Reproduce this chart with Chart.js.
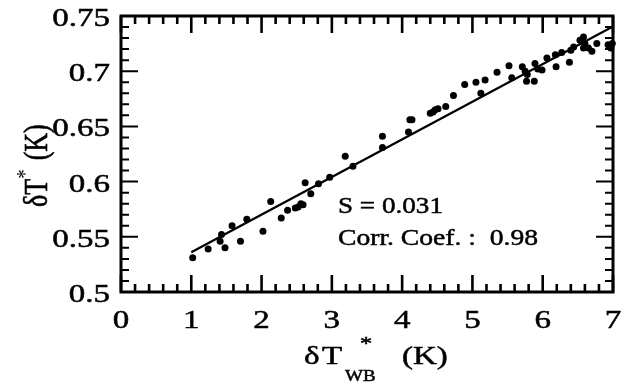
<!DOCTYPE html>
<html>
<head>
<meta charset="utf-8">
<script src="https://cdn.jsdelivr.net/npm/chart.js@4"></script>
<style>
  html, body { margin: 0; padding: 0; background: #fff; }
  .wrap { position: relative; width: 626px; height: 385px; }
</style>
</head>
<body>
<div class="wrap"><canvas id="chart"></canvas></div>
<script>
// dT_wb* (K) against dT* (K)
const xValues = [1.02, 1.24, 1.41, 1.43, 1.48, 1.58, 1.70, 1.79, 2.02, 2.13, 2.28, 2.37, 2.48, 2.52, 2.56, 2.59,
  2.62, 2.70, 2.81, 2.97, 3.19, 3.30, 3.72, 3.72, 4.09, 4.11, 4.14, 4.40, 4.44, 4.47, 4.51, 4.62,
  4.73, 4.89, 5.05, 5.12, 5.18, 5.35, 5.52, 5.56, 5.71, 5.75, 5.78, 5.77, 5.88, 5.89, 5.93, 5.99,
  6.06, 6.19, 6.18, 6.27, 6.38, 6.40, 6.44, 6.53, 6.58, 6.60, 6.58, 6.65, 6.70, 6.77, 6.93, 6.97, 6.99];
const yValues = [0.531, 0.539, 0.546, 0.552, 0.540, 0.560, 0.546, 0.566, 0.555, 0.582, 0.567, 0.574, 0.576, 0.577, 0.580, 0.579,
  0.599, 0.589, 0.598, 0.604, 0.623, 0.614, 0.641, 0.631, 0.645, 0.656, 0.656, 0.662, 0.663, 0.665, 0.666, 0.668,
  0.678, 0.688, 0.690, 0.680, 0.692, 0.699, 0.705, 0.694, 0.704, 0.700, 0.697, 0.691, 0.691, 0.707, 0.702, 0.701,
  0.712, 0.704, 0.715, 0.717, 0.708, 0.719, 0.722, 0.728, 0.731, 0.725, 0.721, 0.721, 0.718, 0.725, 0.724, 0.721, 0.725];

// fitted line end points
const fitX = [1, 7];
const fitY = [0.536, 0.7405];

const xTicks = ['0', '1', '2', '3', '4', '5', '6', '7'];
const yTicks = ['0.5', '0.55', '0.6', '0.65', '0.7', '0.75'];
const statLines = ['S = 0.031', 'Corr. Coef. :  0.98'];

const serif = '"Liberation Serif", "DejaVu Serif", serif';
// the scanned figure is stretched sideways, so the type is too
const SX = 1.27;

const isMult = (v, step) => Math.abs(v / step - Math.round(v / step)) < 1e-6;

function txt(ctx, s, x, y, size, sx, align) {
  ctx.save();
  ctx.font = size + 'px ' + serif;
  ctx.textAlign = align || 'left';
  ctx.textBaseline = 'alphabetic';
  ctx.lineWidth = 0.5;
  ctx.translate(x, y);
  ctx.scale(sx, 1);
  ctx.fillText(s, 0, 0);
  ctx.strokeText(s, 0, 0);
  ctx.restore();
}

// inward ticks on all four sides, the box, and all the type
const frame = {
  id: 'frame',
  afterDraw(chart) {
    const ctx = chart.ctx;
    const { left, right, top, bottom } = chart.chartArea;
    const xs = chart.scales.x, ys = chart.scales.y;
    ctx.save();
    ctx.strokeStyle = '#000';
    ctx.fillStyle = '#000';
    ctx.lineCap = 'butt';
    ctx.lineWidth = 2.6;
    xs.ticks.forEach(t => {
      const px = xs.getPixelForValue(t.value);
      const major = isMult(t.value, 1);
      const len = major ? 17 : 8;
      ctx.beginPath();
      ctx.moveTo(px, bottom); ctx.lineTo(px, bottom - len);
      ctx.moveTo(px, top); ctx.lineTo(px, top + len);
      ctx.stroke();
      if (major) txt(ctx, xTicks[Math.round(t.value)], px, 328, 26, SX, 'center');
    });
    ctx.lineWidth = 2;
    ys.ticks.forEach(t => {
      const py = ys.getPixelForValue(t.value);
      const major = isMult(t.value, 0.05);
      const len = major ? 17 : 8;
      ctx.beginPath();
      ctx.moveTo(left, py); ctx.lineTo(left + len, py);
      ctx.moveTo(right, py); ctx.lineTo(right - len, py);
      ctx.stroke();
      if (major) txt(ctx, yTicks[Math.round((t.value - 0.5) / 0.05)], 110, py + 10, 26, SX, 'right');
    });
    ctx.lineWidth = 3;
    ctx.strokeRect(left, top, right - left, bottom - top);

    // stats text
    txt(ctx, statLines[0], 338, 213, 24, 1.13);
    txt(ctx, statLines[1], 338, 245, 24, 1.15);

    // x title: dT_WB* (K)
    txt(ctx, '\u03b4', 304, 364, 26, SX);
    txt(ctx, 'T', 322, 364, 26, SX);
    txt(ctx, 'WB', 345, 381, 17, 1.12);
    txt(ctx, '*', 360, 350, 19, SX);
    txt(ctx, '(K)', 402, 364, 26, SX);

    // y title: dT* (K), rotated
    ctx.translate(47, 207);
    ctx.scale(SX, 1);
    ctx.rotate(-Math.PI / 2);
    ctx.font = '26px ' + serif;
    ctx.textAlign = 'left';
    ctx.lineWidth = 0.5;
    ctx.fillText('\u03b4T', 0, 0);
    ctx.strokeText('\u03b4T', 0, 0);
    let y = ctx.measureText('\u03b4T').width;
    ctx.font = '19px ' + serif;
    ctx.fillText('*', y, -12);
    y += ctx.measureText('*').width + 9;
    ctx.font = '26px ' + serif;
    ctx.fillText('(K)', y, 0);
    ctx.strokeText('(K)', y, 0);
    ctx.restore();
  }
};

const points = xValues.map((v, i) => ({ x: v, y: yValues[i] }));
const fitLine = fitX.map((v, i) => ({ x: v, y: fitY[i] }));

new Chart(document.getElementById('chart'), {
  type: 'scatter',
  data: {
    datasets: [
      {
        data: points,
        pointRadius: 3.5,
        pointBackgroundColor: '#000',
        pointBorderWidth: 0,
        clip: false
      },
      {
        type: 'line',
        data: fitLine,
        borderColor: '#000',
        borderWidth: 2.3,
        pointRadius: 0,
        fill: false
      }
    ]
  },
  options: {
    responsive: true,
    maintainAspectRatio: false,
    animation: false,
    layout: { padding: { left: 0, right: 13, top: 16, bottom: 0 } },
    plugins: { legend: { display: false }, tooltip: { enabled: false } },
    scales: {
      x: {
        type: 'linear',
        min: 0, max: 7,
        afterFit(scale) { scale.height = 93; },
        grid: { display: false, drawTicks: false },
        border: { display: false },
        ticks: { display: false, stepSize: 0.2, autoSkip: false }
      },
      y: {
        type: 'linear',
        min: 0.5, max: 0.75,
        afterFit(scale) { scale.width = 121; },
        grid: { display: false, drawTicks: false },
        border: { display: false },
        ticks: { display: false, stepSize: 0.01, autoSkip: false }
      }
    }
  },
  plugins: [frame]
});
</script>
</body>
</html>
